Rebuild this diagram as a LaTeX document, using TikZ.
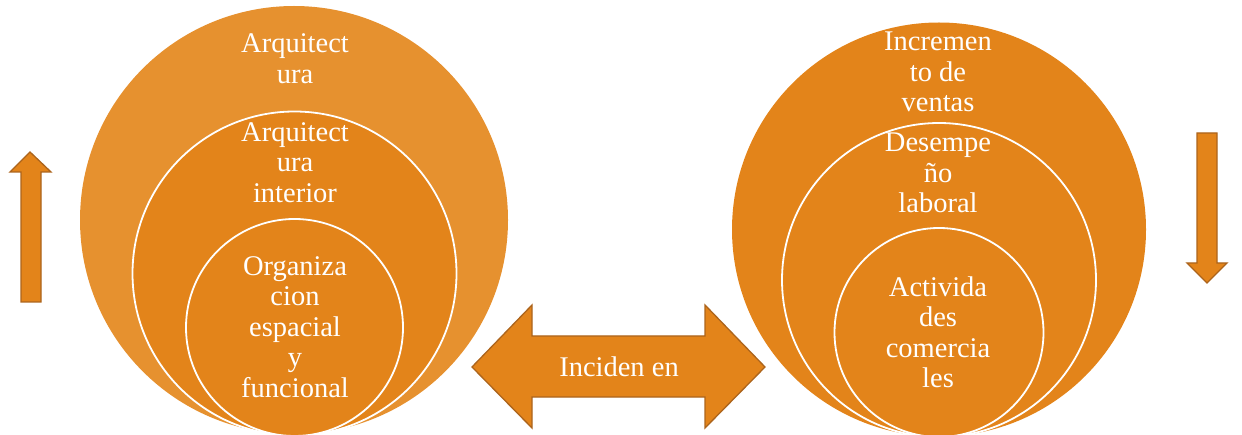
\documentclass[tikz,border=0pt]{standalone}
\usepackage{fontspec}
\setmainfont{Liberation Serif}
\definecolor{lightor}{HTML}{E6912F}
\definecolor{darkor}{HTML}{E3841A}
\definecolor{edgeor}{HTML}{AC641C}
\tikzset{
  ring/.style={draw=white, line width=1.8pt, fill=darkor},
  lbl/.style={text=white, align=center, font=\fontsize{28.5}{30.5}\selectfont, inner sep=0pt},
  arrowshape/.style={fill=darkor, draw=edgeor, line width=1.3pt, line join=miter}
}
\begin{document}
\begin{tikzpicture}[x=1pt,y=-1pt]
\useasboundingbox (0,0) rectangle (1242,435);
% left circles
\fill[lightor] (294,220) circle (214);
\draw[ring] (294.5,273.5) circle (162);
\draw[ring] (294.5,327.5) circle (108.5);
\node[lbl] (a1) at (295,58.5) {Arquitect\\ura};
\node[lbl] (a2) at (295,162.5) {Arquitect\\ura\\interior};
\node[lbl] (a3) at (295,327) {Organiza\\cion\\espacial\\y\\funcional};
% right circles
\fill[darkor] (939,229.5) circle (207);
\draw[ring] (939,280) circle (157);
\draw[ring] (939,332.5) circle (104.5);
\node[lbl] (b1) at (938,72) {Incremen\\to de\\ventas};
\node[lbl] (b2) at (938,173) {Desempe\\ño\\laboral};
\node[lbl] (b3) at (938,332.5) {Activida\\des\\comercia\\les};
% up arrow
\draw[arrowshape] (30,152) -- (51,172) -- (41,172) -- (41,302) -- (21,302) -- (21,172) -- (10,172) -- cycle;
% down arrow
\draw[arrowshape] (1207,283) -- (1227,263) -- (1217,263) -- (1217,133) -- (1197,133) -- (1197,263) -- (1187,263) -- cycle;
% double arrow
\draw[arrowshape] (472,367) -- (532,305) -- (532,336) -- (705,336) -- (705,305) -- (765,367) -- (705,428) -- (705,397) -- (532,397) -- (532,428) -- cycle;
\node[lbl] (inc) at (619,367) {Inciden en};
\end{tikzpicture}
\end{document}
